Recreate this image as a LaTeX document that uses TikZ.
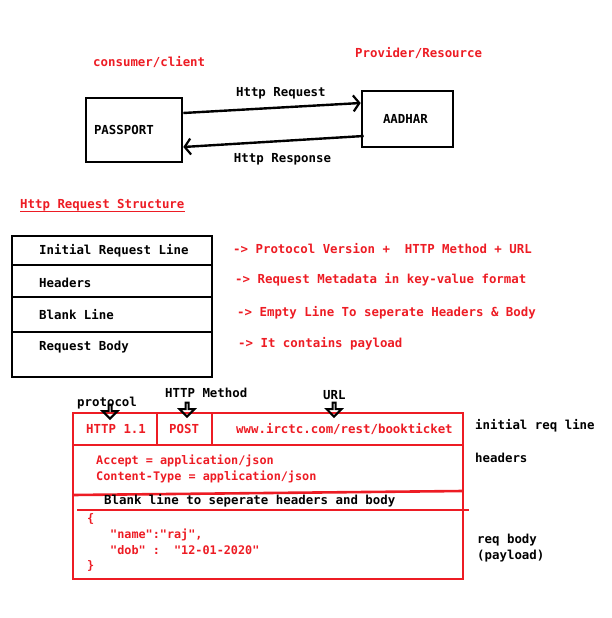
\documentclass[tikz,border=0pt]{standalone}
\usepackage{fontspec}
\newfontfamily\paintfont{DejaVu Sans Mono}
\usetikzlibrary{arrows.meta,positioning,shapes.arrows}
\definecolor{paintred}{RGB}{237,28,36}
\tikzset{%
	txt/.style     = {font=\paintfont\bfseries\fontsize{12.4}{15}\selectfont, inner sep=0pt, anchor=west},
	redtxt/.style  = {txt, text=paintred},
	jsontxt/.style = {redtxt, font=\paintfont\bfseries\fontsize{11.8}{14}\selectfont},
	box/.style     = {draw, line width=2.6pt, rectangle, minimum height=64pt, align=left},
	msg/.style     = {line width=2.4pt, -{Straight Barb[length=6pt,width=16pt,line width=2.2pt]}},
	pointer/.style = {draw, line width=2pt, single arrow, single arrow head extend=4pt, minimum width=15pt, minimum height=14pt, inner sep=0pt, rotate=-90, anchor=tip},
	blackline/.style = {line width=2.6pt},
	redline/.style   = {paintred, line width=2.6pt},
}
\begin{document}
\begin{tikzpicture}[x=1pt,y=-1pt]
	\useasboundingbox (0,0) rectangle (612,618);
	% client and provider
	\node[redtxt] (consumer) at (93,62) {consumer/client};
	\node[redtxt] (provider) at (355,53) {Provider/Resource};
	\node[box, txt, anchor=center, text width=80pt, inner xsep=8pt, minimum height=64pt] (passport) at (134,130) {PASSPORT};
	\node[box, txt, anchor=center, text width=49pt, inner xsep=21pt, minimum height=56pt] (aadhar) at (407.5,119) {AADHAR};
	\draw[msg] ([yshift=17pt]passport.east) -- node[txt, anchor=center, above=7pt, pos=0.55] (reqlbl) {Http Request} ([yshift=16pt]aadhar.west);
	\draw[msg] ([xshift=3pt,yshift=-17pt]aadhar.west) -- node[txt, anchor=center, below=11pt, pos=0.45] (resplbl) {Http Response} ([yshift=-17pt]passport.east);
	% request structure
	\node[redtxt] (title) at (20,205) {Http Request Structure};
	\draw[paintred, line width=1pt] ([yshift=-3pt]title.base west) -- ([yshift=-3pt]title.base east);
	\draw[blackline] (12,236) rectangle (212,377);
	\foreach \y in {265,297,332}
		\draw[blackline] (12,\y) -- (212,\y);
	\node[txt] (initrow) at (39,251) {Initial Request Line};
	\node[txt] (headrow) at (39,283) {Headers};
	\node[txt] (blankrow) at (39,315) {Blank Line};
	\node[txt] (bodyrow) at (39,347) {Request Body};
	\node[redtxt] (initinfo) at (233,249) {-> Protocol Version +~~HTTP Method + URL};
	\node[redtxt] (headinfo) at (235,280) {-> Request Metadata in key-value format};
	\node[redtxt] (blankinfo) at (237,313) {-> Empty Line To seperate Headers \& Body};
	\node[redtxt] (bodyinfo) at (238,344) {-> It contains payload};
	% example request
	\draw[redline] (73,413) rectangle (463,579);
	\draw[redline] (73,445) -- (462,445);
	\draw[redline] (157,413) -- (157,445);
	\draw[redline] (212,413) -- (212,445);
	\draw[redline] (73,495) -- (463,491);
	\draw[redline] (77,510) -- (469,510);
	\node[txt] (protocol) at (77,403) {protocol};
	\node[txt] (method) at (165,393) {HTTP Method};
	\node[txt] (url) at (323,395) {URL};
	\node[pointer] (protoptr) at (110,420) {};
	\node[pointer] (methodptr) at (187,418) {};
	\node[pointer] (urlptr) at (334,418) {};
	\node[redtxt] (version) at (86,429) {HTTP 1.1};
	\node[redtxt] (post) at (169,429) {POST};
	\node[redtxt] (address) at (236,429) {www.irctc.com/rest/bookticket};
	\node[jsontxt] (accept) at (96,461) {Accept = application/json};
	\node[jsontxt] (ctype) at (96,477) {Content-Type = application/json};
	\node[txt] (blankline) at (104,501) {Blank line to seperate headers and body};
	\node[jsontxt] (open) at (87,519) {\{};
	\node[jsontxt] (name) at (110,535) {"name":"raj",};
	\node[jsontxt] (dob) at (110,550) {"dob" :~~"12-01-2020"};
	\node[jsontxt] (close) at (87,566) {\}};
	\node[txt] (initlbl) at (475,426) {initial req line};
	\node[txt] (headlbl) at (475,458) {headers};
	\node[txt] (bodylbl) at (477,540) {req body};
	\node[txt] (payload) at (477,556) {(payload)};
\end{tikzpicture}
\end{document}
